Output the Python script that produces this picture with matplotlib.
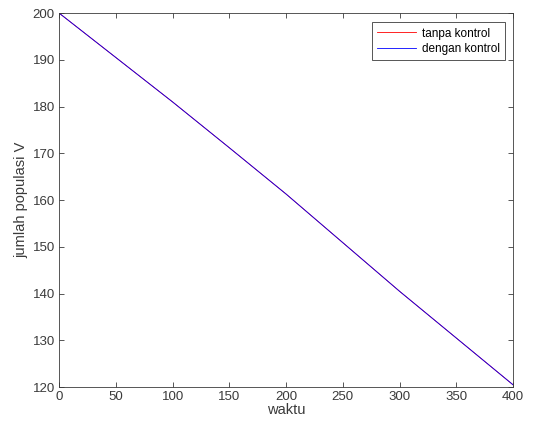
import matplotlib
matplotlib.use('Agg')
import matplotlib.pyplot as plt

plt.rcParams['font.family'] = ['Liberation Sans', 'DejaVu Sans']

# waktu dan jumlah populasi V
waktu = [0, 50, 100, 150, 200, 250, 300, 350, 400]
tanpa_kontrol = [200, 190.5, 181.0, 171.2, 161.3, 150.9, 140.5, 130.5, 120.5]
dengan_kontrol = [200, 190.5, 181.0, 171.2, 161.3, 150.9, 140.5, 130.5, 120.5]

fig = plt.figure(figsize=(5.47, 4.36), dpi=100)
ax = fig.add_axes([0.108, 0.112, 0.830, 0.858])

ax.plot(waktu, tanpa_kontrol, color='red', linewidth=0.6, label='tanpa kontrol')
ax.plot(waktu, dengan_kontrol, color='blue', linewidth=0.6, label='dengan kontrol')

ax.set_xlim(0, 400)
ax.set_ylim(120, 200)
ax.set_xticks(range(0, 401, 50))
ax.set_yticks(range(120, 201, 10))

abu = '#3a3a3a'
ax.tick_params(direction='in', top=True, right=True, length=3.5, width=0.6,
               colors=abu, labelsize=9.5, pad=3)
for s in ax.spines.values():
    s.set_color(abu)
    s.set_linewidth(0.6)

ax.set_xlabel('waktu', fontsize=10.5, color=abu, labelpad=0)
ax.set_ylabel('jumlah populasi V', fontsize=10.5, color=abu, labelpad=3)

leg = ax.legend(loc='upper right', fontsize=8.5, fancybox=False, framealpha=1,
                edgecolor=abu, bbox_to_anchor=(0.99, 0.985), borderaxespad=0.3,
                handlelength=3.3, handletextpad=0.5, borderpad=0.45,
                labelspacing=0.3)
leg.get_frame().set_linewidth(0.6)

plt.savefig('out.png', dpi=100)
